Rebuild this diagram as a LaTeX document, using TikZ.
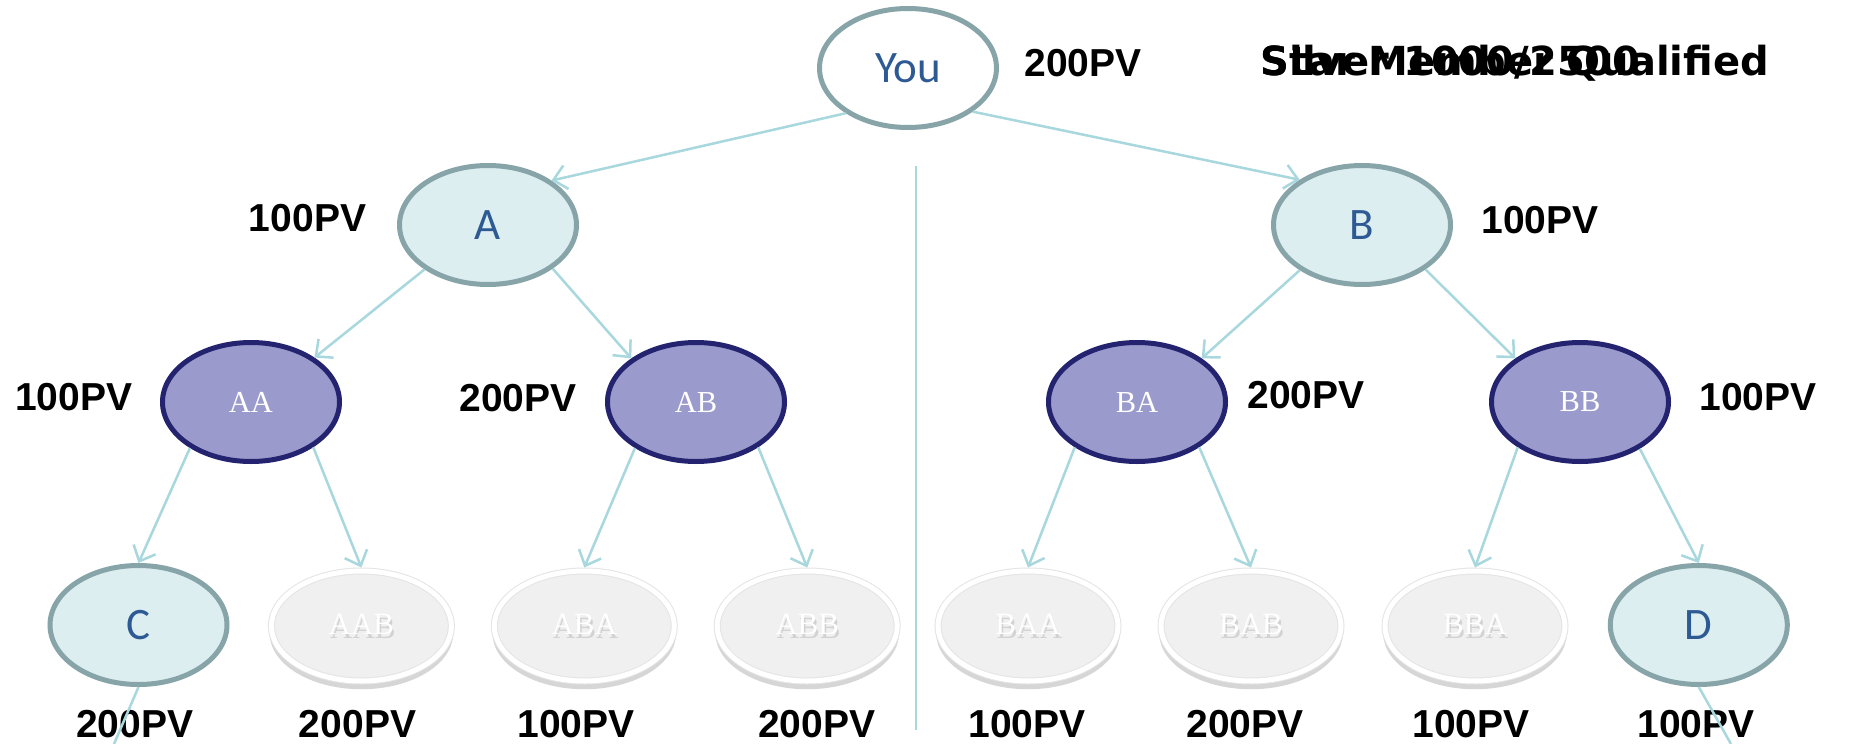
\documentclass[tikz,border=0pt]{standalone}
\usepackage{fontspec}
\setmainfont{Liberation Serif}
\newfontfamily\pvfont{Liberation Sans}
\newfontfamily\nodefont{Carlito}
\newfontfamily\topfont{DejaVu Sans}
\usetikzlibrary{arrows.meta,shapes.geometric,shadows}
\definecolor{lbfill}{HTML}{DDEEF1}
\definecolor{lbedge}{HTML}{87A4A8}
\definecolor{nodeblue}{HTML}{2E5A94}
\definecolor{pfill}{HTML}{9A9ACC}
\definecolor{pedge}{HTML}{232370}
\definecolor{gfill}{HTML}{F0F0F0}
\definecolor{gedge}{HTML}{E4E4E4}
\definecolor{gshade}{HTML}{D6D6D6}
\definecolor{gtextshade}{HTML}{D2D2D2}
\definecolor{linkc}{HTML}{A8D8DD}
\newcommand\gtext[1]{\makebox[0pt][l]{\hspace{1.5pt}\raisebox{-4pt}{\color{gtextshade}#1}}{\color{white}#1}}
\tikzset{
  basenode/.style={ellipse, minimum width=177pt, minimum height=119pt, inner sep=0pt, line width=5pt},
  lbnode/.style={basenode, fill=lbfill, draw=lbedge, text=nodeblue, font=\nodefont\fontsize{45}{50}\selectfont},
  younode/.style={lbnode, fill=white},
  pnode/.style={basenode, fill=pfill, draw=pedge, text=white, font=\fontsize{30.5}{34}\selectfont},
  gnode/.style={ellipse, minimum width=180pt, minimum height=110pt, inner sep=0pt, outer sep=3.5pt,
    fill=gfill, draw=gedge, line width=1pt, double=white, double distance=5pt,
    drop shadow={shadow xshift=0pt, shadow yshift=-7pt, shadow scale=1.02, fill=gshade, opacity=1},
    font=\fontsize{31}{34}\selectfont},
  pv/.style={font=\pvfont\bfseries\fontsize{39}{43}\selectfont, anchor=base, inner sep=0pt},
  toptext/.style={font=\topfont\bfseries\fontsize{40}{44}\selectfont, anchor=base west, inner sep=0pt},
  link/.style={draw=linkc, line width=2.5pt, -{Straight Barb[length=13pt,width=24pt,line width=2.5pt]}},
  plainline/.style={draw=linkc, line width=2.5pt}
}
\begin{document}
\begin{tikzpicture}[x=1pt, y=-1pt]
\useasboundingbox[fill=white] (0,0) rectangle (1853,744);

% divider
\coordinate (vtop) at (916,166);
\coordinate (vbot) at (916,730);
\draw[plainline, line width=2pt] (vtop) -- (vbot);

% nodes
\node[younode] (You) at (908,68) {You};
\node[lbnode] (A) at (488,225) {A};
\node[lbnode] (B) at (1362,225) {B};
\node[pnode] (AA) at (251,402) {AA};
\node[pnode] (AB) at (696,402) {AB};
\node[pnode] (BA) at (1137,402) {BA};
\node[pnode] (BB) at (1580,402) {BB};
\node[lbnode] (C) at (138.5,625) {C};
\node[gnode] (AAB) at (361.4,626) {\gtext{AAB}};
\node[gnode] (ABA) at (584.3,626) {\gtext{ABA}};
\node[gnode] (ABB) at (807.2,626) {\gtext{ABB}};
\node[gnode] (BAA) at (1028,626) {\gtext{BAA}};
\node[gnode] (BAB) at (1251,626) {\gtext{BAB}};
\node[gnode] (BBA) at (1475,626) {\gtext{BBA}};
\node[lbnode] (D) at (1698.8,625) {D};

% connectors
\draw[link] (You.216) -- (A.35);
\draw[link] (You.326) -- (B.144);
\draw[link] (A.215) -- (AA.35);
\draw[link] (A.326) -- (AB.146);
\draw[link] (B.216) -- (BA.34);
\draw[link] (B.325) -- (BB.146);
\draw[link] (AA.217) -- (C.north);
\draw[link] (AA.324) -- (AAB.north);
\draw[link] (AB.217) -- (ABA.north);
\draw[link] (AB.324) -- (ABB.north);
\draw[link] (BA.216) -- (BAA.north);
\draw[link] (BA.324) -- (BAB.north);
\draw[link] (BB.216) -- (BBA.north);
\draw[link] (BB.322) -- (D.north);

% labels
\node[pv] (lyou) at (1083,76.5) {200PV};
\node[toptext] (q1) at (1260,75) {Star Member Qualified};
\node[toptext] (q2) at (1260,75) {Silver 1000/2500};
\node[pv] (la) at (307.5,231) {100PV};
\node[pv] (lb) at (1540,233.5) {100PV};
\node[pv] (laa) at (73.6,410) {100PV};
\node[pv] (lab) at (518,411) {200PV};
\node[pv] (lba) at (1306,408.5) {200PV};
\node[pv] (lbb) at (1758,410) {100PV};
\node[pv] (lc) at (134.8,737.5) {200PV};
\node[pv] (laab) at (357.5,737.5) {200PV};
\node[pv] (laba) at (576,737.5) {100PV};
\node[pv] (labb) at (816.6,737.5) {200PV};
\node[pv] (lbaa) at (1027,737.5) {100PV};
\node[pv] (lbab) at (1245,737.5) {200PV};
\node[pv] (lbba) at (1471,737.5) {100PV};
\node[pv] (ld) at (1696,737.5) {100PV};

% lines leaving C and D
\coordinate (cexit) at (114,744);
\coordinate (dexit) at (1731,744);
\draw[plainline] (C.south) -- (cexit);
\draw[plainline] (D.south) -- (dexit);
\end{tikzpicture}
\end{document}
